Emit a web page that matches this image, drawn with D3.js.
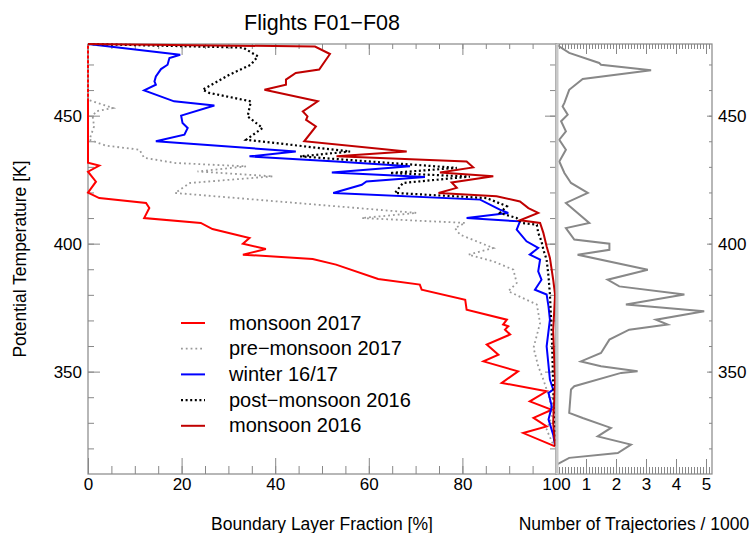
<!DOCTYPE html>
<html>
<head>
<meta charset="utf-8">
<script src="https://cdn.jsdelivr.net/npm/d3@7"></script>
<style>
    body { margin: 0; background: #fff; }
    text { font-family: "Liberation Sans", Arial, Helvetica, sans-serif; fill: #000; }
</style>
</head>
<body>
<div id="chart"></div>
<script>

// profiles: [potential temperature K, boundary layer fraction %]
const monsoon2017 = [
    [478,0],[431.6,0],[430.5,2.4],[428.1,0],[424.2,1.7],[419.9,0],[417.8,2.4],[415.9,12.4],
    [413.9,13.1],[410.0,12.0],[408.1,24.1],[405.7,26.6],[402.2,34.5],[400.0,33.1],[397.9,38.0],
    [395.7,33.1],[394.0,48.0],[391.8,53.0],[386.2,62.0],[384.0,70.9],[382.0,71.3],[378.1,80.6],
    [374.2,80.9],[370.3,89.5],[368.4,88.7],[367.7,89.8],[366.4,89.1],[364.5,90.2],[360.6,85.2],
    [356.6,87.7],[354.0,84.5],[350.1,91.9],[345.6,88.4],[342.3,98.0],[338.4,94.4],[335.1,99.1],
    [331.9,95.2],[328.6,98.0],[326.0,93.0],[320.8,99.8]
];

const preMonsoon2017 = [
    [478,0],[456.2,0],[453.0,5.3],[451.7,1.7],[449.7,1.0],[445.8,1.3],[440.6,0.3],[438.3,3.8],
    [436.7,11.0],[433.5,12.0],[431.5,18.8],[430.2,33.8],[428.2,23.4],[426.3,39.5],[423.7,21.8],
    [419.8,18.6],[412.0,70.2],[410.0,58.5],[408.1,80.6],[406.1,78.4],[403.5,79.5],[398.3,86.6],
    [395.7,81.3],[393.1,86.6],[389.8,90.9],[384.6,91.6],[381.4,89.8],[376.2,95.9],[369.0,96.6],
    [359.3,95.2],[352.1,96.2],[346.9,97.3],[339.1,98.7],[332.5,99.1],[327.3,98.0],[321.5,99.4]
];

const winter1617 = [
    [478,0],[473.8,19.7],[472.5,17.4],[469.9,17.0],[468.2,15.6],[465.3,14.5],[463.4,14.2],
    [462.1,14.5],[459.9,12.0],[455.6,18.4],[454.0,27.0],[450.0,19.9],[447.1,20.2],[445.2,21.3],
    [442.6,20.6],[440.0,14.5],[436.0,44.4],[434.1,34.5],[432.1,53.0],[430.2,68.8],[427.8,52.1],
    [426.0,72.0],[424.3,59.5],[423.0,58.5],[419.8,52.4],[417.2,83.8],[413.3,88.0],[412.0,89.8],
    [410.0,80.9],[408.7,92.3],[405.5,91.6],[400.9,93.7],[398.3,96.2],[395.7,94.4],[393.8,96.6],
    [389.2,96.2],[385.9,96.9],[382.0,95.5],[380.1,98.0],[375.5,98.4],[370.3,98.7],[359.9,98.0],
    [346.9,98.7],[343.0,99.4],[341.7,98.4],[336.4,99.1],[331.3,98.4],[325.4,99.4],[321.1,99.8]
];

const postMonsoon2016 = [
    [478,0],[476.6,33.1],[473.2,36.3],[469.9,34.8],[466.0,30.2],[460.1,24.5],[458.9,25.9],
    [455.6,34.8],[449.7,34.1],[445.2,37.3],[440.6,33.8],[436.0,56.0],[434.1,45.3],[429.6,78.8],
    [427.6,64.5],[426.2,81.6],[423.7,67.3],[419.8,65.6],[417.8,85.2],[414.6,89.5],[412.0,88.0],
    [410.0,91.6],[408.1,92.7],[407.4,95.9],[404.2,96.2],[400.9,96.9],[397.6,97.3],[393.7,98.0],
    [387.2,98.4],[380.1,98.7],[365.0,99.1],[345.0,99.4],[330.0,99.6],[321.1,99.8]
];

const monsoon2016 = [
    [478,0],[477.0,48.5],[474.1,51.7],[468.0,49.4],[466.7,44.4],[464.1,42.3],[462.1,42.3],
    [460.1,37.7],[455.6,49.1],[451.7,45.9],[449.7,46.9],[448.4,46.6],[445.8,48.7],[440.0,46.2],
    [436.0,68.1],[434.1,53.1],[432.1,80.9],[429.8,82.3],[427.8,75.2],[426.3,86.6],[423.9,77.7],
    [421.8,78.8],[419.8,74.9],[418.5,87.3],[416.5,92.3],[413.9,94.1],[412.0,96.2],[409.1,92.3],
    [408.1,96.6],[404.2,97.3],[398.9,98.0],[394.4,98.7],[385.9,99.4],[380.1,99.8],[366.0,99.4],
    [346.0,99.8],[330.0,99.4],[321.1,99.8]
];

// right panel: [potential temperature K, trajectories / 1000]
const trajectories = [
    [477.7,0.02],[474.5,0.44],[470.6,1.44],[469.9,1.5],[467.7,3.17],[464.3,0.89],[460.1,0.44],
    [455.0,0.28],[453.6,0.22],[450.4,0.39],[447.8,0.17],[443.9,0.33],[440.6,0.11],[436.7,0.33],
    [432.1,0.11],[427.6,0.28],[423.7,0.5],[419.8,1.06],[415.9,0.33],[408.1,1.11],[406.1,0.33],
    [401.6,0.61],[400.0,1.78],[397.6,1.78],[395.7,0.72],[389.8,3.06],[385.9,1.72],[383.3,2.11],
    [380.1,4.28],[376.2,2.33],[373.6,4.94],[370.3,3.33],[368.4,3.72],[366.4,2.44],[362.5,1.78],
    [357.3,1.5],[354.0,0.83],[352.1,1.5],[350.1,2.72],[349.5,2.17],[344.3,0.61],[343.0,0.5],
    [333.9,0.44],[331.9,0.89],[328.0,1.83],[324.7,1.39],[321.5,2.5],[318.2,2.06],[316.3,0.44],
    [313.7,0.02]
];

const seriesNames = ["monsoon 2017", "pre\u2212monsoon 2017", "winter 16/17", "post\u2212monsoon 2016", "monsoon 2016"];
const seriesData = [monsoon2017, preMonsoon2017, winter1617, postMonsoon2016, monsoon2016];
const seriesColors = ["#ff0000", "#999999", "#0000ff", "#000000", "#c00000"];
const seriesDash = [null, "1.8,3", null, "2,2.6", null];
const seriesWidth = [2, 1.8, 2, 2.2, 2];

const fractionTicks = [0, 20, 40, 60, 80, 100];
const thetaTicks = [350, 400, 450];
const countTicks = [1, 2, 3, 4, 5];

const W = 753, H = 533;
const plotTop = 44, plotBottom = 474;
const tickFont = 17, labelFont = 17.5;

const svg = d3.select("#chart").append("svg")
    .attr("width", W)
    .attr("height", H);

const x = d3.scaleLinear().domain([0, 100]).range([88, 556]);
const xn = d3.scaleLinear().domain([0, 5.2]).range([556, 712]);
const y = d3.scaleLinear().domain([310, 478]).range([plotBottom, plotTop]);

const axisColor = "#888";

// helper to style an axis group
function styleAxis(g)
{
    g.select(".domain").remove();
    g.selectAll("line").attr("stroke", axisColor);
    g.selectAll("text").attr("font-size", tickFont).attr("fill", "#000");
    g.attr("font-family", null);
}

// ---- left panel axes
svg.append("g").attr("transform", `translate(0,${plotBottom})`)
    .call(d3.axisBottom(x).tickValues(d3.range(0, 101, 5)).tickSize(-8).tickFormat(""))
    .call(styleAxis);
svg.append("g").attr("transform", `translate(0,${plotBottom})`)
    .call(d3.axisBottom(x).tickValues(fractionTicks).tickSize(-16).tickPadding(4).tickFormat(d3.format("d")))
    .call(styleAxis);

svg.append("g").attr("transform", `translate(0,${plotTop})`)
    .call(d3.axisTop(x).tickValues(d3.range(0, 101, 5)).tickSize(-5).tickFormat(""))
    .call(styleAxis);
svg.append("g").attr("transform", `translate(0,${plotTop})`)
    .call(d3.axisTop(x).tickValues(fractionTicks).tickSize(-11).tickFormat(""))
    .call(styleAxis);

svg.append("g").attr("transform", `translate(88,0)`)
    .call(d3.axisLeft(y).tickValues(d3.range(320, 478, 10)).tickSize(-6).tickFormat(""))
    .call(styleAxis);
svg.append("g").attr("transform", `translate(88,0)`)
    .call(d3.axisLeft(y).tickValues(thetaTicks).tickSize(-12).tickPadding(6))
    .call(styleAxis);

svg.append("g").attr("transform", `translate(556,0)`)
    .call(d3.axisRight(y).tickValues(d3.range(320, 478, 10)).tickSize(-6).tickFormat(""))
    .call(styleAxis);
svg.append("g").attr("transform", `translate(556,0)`)
    .call(d3.axisRight(y).tickValues(thetaTicks).tickSize(-11).tickFormat(""))
    .call(styleAxis);

// ---- right panel axes
svg.append("g").attr("transform", `translate(0,${plotBottom})`)
    .call(d3.axisBottom(xn).tickValues(d3.range(1, 52).map(d => d / 10)).tickSize(-7).tickFormat(""))
    .call(styleAxis);
svg.append("g").attr("transform", `translate(0,${plotBottom})`)
    .call(d3.axisBottom(xn).tickValues(countTicks).tickSize(-15).tickPadding(4).tickFormat(d3.format("d")))
    .call(styleAxis);

svg.append("g").attr("transform", `translate(0,${plotTop})`)
    .call(d3.axisTop(xn).tickValues(d3.range(1, 52).map(d => d / 10)).tickSize(-5).tickFormat(""))
    .call(styleAxis);
svg.append("g").attr("transform", `translate(0,${plotTop})`)
    .call(d3.axisTop(xn).tickValues(countTicks).tickSize(-10).tickFormat(""))
    .call(styleAxis);

svg.append("g").attr("transform", `translate(712,0)`)
    .call(d3.axisRight(y).tickValues(d3.range(320, 478, 10)).tickSize(-3).tickFormat(""))
    .call(styleAxis);
svg.append("g").attr("transform", `translate(712,0)`)
    .call(d3.axisRight(y).tickValues(thetaTicks).tickSize(-5).tickPadding(6))
    .call(styleAxis);

// frames
svg.append("rect")
    .attr("x", x(0)).attr("y", plotTop)
    .attr("width", x(100) - x(0)).attr("height", plotBottom - plotTop)
    .attr("fill", "none").attr("stroke", axisColor).attr("stroke-width", 1.2);
svg.append("rect")
    .attr("x", xn(0)).attr("y", plotTop)
    .attr("width", xn(5.2) - xn(0)).attr("height", plotBottom - plotTop)
    .attr("fill", "none").attr("stroke", axisColor).attr("stroke-width", 1.2);

// ---- profiles
const line = d3.line().x(d => x(d[1])).y(d => y(d[0]));

seriesData.forEach((data, i) => {
    svg.append("path")
        .datum(data)
        .attr("d", line)
        .attr("fill", "none")
        .attr("stroke", seriesColors[i])
        .attr("stroke-width", seriesWidth[i])
        .attr("stroke-dasharray", seriesDash[i])
        .attr("stroke-linejoin", "miter");
});

// histogram of trajectories
const lineN = d3.line().x(d => xn(d[1])).y(d => y(d[0]));
svg.append("path")
    .datum(trajectories)
    .attr("d", lineN)
    .attr("fill", "none")
    .attr("stroke", "#888")
    .attr("stroke-width", 2);

// light separator between the two panels
svg.append("line")
    .attr("x1", 557).attr("x2", 557)
    .attr("y1", plotTop).attr("y2", plotBottom)
    .attr("stroke", "#c8c8c8").attr("stroke-width", 3);

// ---- legend
const legend = svg.append("g").attr("transform", "translate(181,323)");
seriesNames.forEach((name, i) => {
    const row = legend.append("g").attr("transform", `translate(0,${i * 25.7})`);
    row.append("line")
        .attr("x1", 0).attr("x2", 24)
        .attr("stroke", seriesColors[i])
        .attr("stroke-width", seriesWidth[i])
        .attr("stroke-dasharray", seriesDash[i]);
    row.append("text")
        .attr("x", 48).attr("y", 6.5)
        .attr("font-size", 20)
        .text(name);
});

// ---- titles
svg.append("text")
    .attr("x", 322).attr("y", 30)
    .attr("text-anchor", "middle")
    .attr("font-size", 21.5)
    .text("Flights F01\u2212F08");

svg.append("text")
    .attr("x", 322).attr("y", 530)
    .attr("text-anchor", "middle")
    .attr("font-size", labelFont)
    .text("Boundary Layer Fraction [%]");

svg.append("text")
    .attr("x", 634).attr("y", 530)
    .attr("text-anchor", "middle")
    .attr("font-size", labelFont)
    .text("Number of Trajectories / 1000");

svg.append("text")
    .attr("transform", "translate(26,259) rotate(-90)")
    .attr("text-anchor", "middle")
    .attr("font-size", labelFont)
    .text("Potential Temperature [K]");

</script>
</body>
</html>
